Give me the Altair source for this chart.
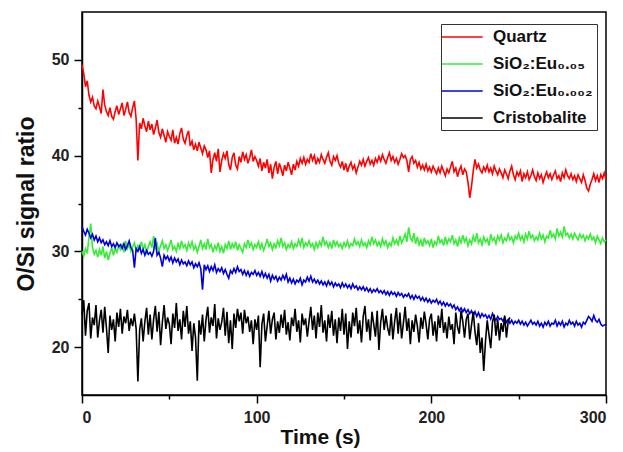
import altair as alt
import pandas as pd

quartz = [
    49.5, 48.6, 47.2, 47.8, 46.3, 45.6, 46.1, 45.2, 44.9, 45.7,
    45.1, 44.4, 46.9, 45.3, 44.6, 44.2, 45.0, 44.1, 43.8, 44.6,
    45.2, 44.3, 44.9, 45.5, 44.2, 44.8, 45.6, 44.5, 44.1, 45.0,
    45.7, 43.8, 39.5, 43.4, 42.8, 43.9, 43.1, 42.5, 43.6, 42.7,
    43.3, 42.2, 42.9, 43.7, 42.4, 41.9, 42.8, 42.1, 41.4, 42.5,
    42.0, 41.6, 42.7, 41.3, 41.9, 41.2, 42.3, 42.9, 41.7, 41.3,
    42.1, 42.6, 41.0, 41.5, 40.6, 41.2, 40.5, 41.4, 40.8, 40.2,
    41.0, 40.6, 39.8, 40.5, 38.2, 39.6, 40.3, 39.4, 40.7, 38.3,
    39.5, 40.2, 39.7, 40.5, 39.1, 38.5, 39.8, 40.3, 39.0, 38.6,
    39.9, 39.3, 40.4, 39.6, 40.1, 39.2, 39.8, 40.6, 39.4, 39.9,
    39.5, 38.9, 39.7, 38.4, 39.3, 38.7, 39.6, 38.2, 39.1, 37.6,
    38.8, 39.4, 38.1, 39.2, 38.6, 37.9, 39.0, 38.4, 39.3, 38.7,
    38.0, 39.1, 38.5, 39.4, 38.9, 39.7, 39.2, 39.8, 39.1, 39.6,
    39.3, 40.2, 39.5, 40.0, 39.1, 39.7, 39.3, 40.1, 39.6, 39.2,
    39.8, 40.3, 39.4, 39.0, 39.9, 39.5, 40.0, 39.2, 38.8, 39.4,
    38.5, 39.2, 38.3, 38.9, 39.3, 38.6, 39.0, 38.2, 38.8, 39.4,
    39.0, 39.6, 38.9, 39.4, 39.8, 39.1, 39.5, 39.0, 39.7, 39.3,
    39.9, 39.4, 40.1, 39.6, 39.2, 39.8, 40.3, 39.5, 39.9, 39.3,
    39.7, 39.1, 39.6, 40.2, 39.8, 40.0, 39.5, 38.3, 39.6, 39.9,
    39.2, 39.5, 38.8, 39.3, 38.6, 39.0, 38.5, 39.1, 38.4, 38.8,
    38.3, 38.9, 38.5, 38.1, 38.7, 38.2, 38.9, 38.4, 37.9, 38.6,
    38.2, 38.8, 39.4, 38.3, 38.7, 37.8, 38.5, 38.9, 38.0, 38.6,
    38.3, 37.2, 35.6, 36.8, 38.4, 39.6, 38.7, 39.1, 38.5, 38.2,
    38.8, 38.4, 39.0, 38.3, 38.7, 38.1, 38.9, 38.4, 38.0, 38.6,
    38.2, 37.7, 38.5, 38.1, 37.6, 38.4, 38.9, 38.0, 37.5, 38.3,
    37.9, 38.4, 37.3, 38.1, 37.7, 38.3, 37.5, 37.9, 38.5, 37.8,
    37.4, 38.2, 37.6, 38.0, 37.2, 37.8, 38.3, 37.7, 38.1, 37.5,
    38.0, 38.4, 37.6, 37.9, 37.3, 38.2, 37.7, 38.5, 37.9, 37.6,
    38.1, 37.5, 37.9, 37.3, 38.0, 37.6, 37.2, 38.0, 37.4, 36.6,
    36.3, 37.0, 37.5, 38.1, 37.4, 37.9, 37.2, 38.0, 37.6, 38.2,
    37.5]
eu005 = [
    30.0, 29.5, 30.3, 29.8, 31.5, 32.9, 30.4, 29.7, 30.1, 29.4,
    30.2, 29.6, 30.5, 29.3, 30.0, 29.1, 29.8, 30.4, 29.6, 30.3,
    29.9, 30.6, 30.2, 30.8, 29.9, 31.1, 30.3, 30.7, 30.0, 30.5,
    30.9, 30.1, 30.6, 30.3, 31.0, 30.2, 30.7, 29.9, 30.5, 31.0,
    30.4, 31.6, 30.2, 30.8, 30.0, 30.6, 31.1, 30.3, 30.7, 30.1,
    30.6, 31.2, 30.2, 30.5, 30.0, 30.8, 30.3, 31.1, 30.4, 30.7,
    30.1, 30.9, 30.4, 31.0, 30.2, 30.6, 29.9, 30.5, 31.2, 30.3,
    30.8, 30.2, 31.3, 30.4, 30.7, 29.9, 30.6, 30.2, 30.9, 30.0,
    30.5, 29.8, 30.7, 30.3, 31.1, 30.2, 30.8, 30.4, 31.0, 30.1,
    30.7, 30.3, 29.9, 30.8, 30.4, 31.2, 30.5, 30.9, 30.2, 30.7,
    30.4, 31.0, 30.3, 30.8, 30.1, 30.6, 31.3, 30.5, 30.9, 30.2,
    30.8, 30.4, 31.1, 30.6, 31.4, 30.5, 30.9, 30.2, 30.7, 30.4,
    31.0, 30.3, 30.8, 30.5, 31.2, 30.6, 31.4, 30.4, 30.9, 30.6,
    31.1, 30.5, 30.8, 30.2, 30.9, 30.4, 31.0, 30.6, 31.5, 30.7,
    31.0, 30.4, 30.9, 30.3, 31.2, 30.6, 31.0, 30.5, 30.8, 30.3,
    30.9, 30.5, 31.1, 30.4, 30.8, 30.6, 31.3, 30.7, 31.0, 30.5,
    31.2, 30.6, 30.9, 30.4, 31.1, 30.7, 31.5, 30.8, 31.2, 30.6,
    31.0, 30.5, 31.3, 30.7, 31.1, 30.4, 30.9, 30.6, 31.4, 30.8,
    31.2, 30.7, 31.6, 30.9, 31.3, 31.8, 31.0, 32.5, 31.4, 31.1,
    31.9, 30.8, 31.5, 30.7, 31.2, 30.5, 31.4, 30.8, 31.1, 30.6,
    31.3, 30.4, 31.0, 30.7, 31.6, 30.9, 31.2, 30.6, 31.5, 30.8,
    31.3, 31.0, 31.7, 30.8, 31.2, 30.5, 31.4, 30.9, 31.7, 31.0,
    31.4, 30.6, 31.2, 30.8, 31.6, 31.0, 31.9, 30.9, 31.3, 30.7,
    31.5, 31.0, 31.3, 30.6, 31.8, 31.1, 31.4, 30.8, 31.6, 31.2,
    31.7, 30.9, 31.4, 31.1, 31.8, 31.2, 31.5, 30.9, 31.6, 31.3,
    31.9, 31.2, 31.6, 31.0, 31.8, 31.3, 32.1, 31.4, 31.7, 31.1,
    31.5, 31.2, 31.9, 31.3, 31.7, 31.0, 31.6, 31.4, 32.2, 31.5,
    31.8, 31.3, 32.4, 31.6, 32.0, 31.5, 32.6, 31.7, 31.9, 31.4,
    31.8, 31.3, 31.9, 31.5, 31.2, 31.8, 31.4, 31.7, 31.1, 31.6,
    31.3, 31.8, 31.2, 31.5, 30.9, 31.6, 31.2, 30.8, 31.4, 31.0,
    31.2]
eu0002 = [
    32.6, 32.1, 31.7, 32.3, 31.9, 31.4, 31.8, 31.2, 31.6, 31.0,
    31.4, 30.9, 31.2, 30.7, 31.0, 30.6, 31.1, 30.5, 30.8, 30.4,
    30.9, 30.5, 30.7, 30.3, 30.8, 30.2, 30.6, 31.1, 30.4, 30.1,
    28.3, 30.3, 30.0, 30.5, 29.8, 30.2, 29.6, 30.1, 29.7, 29.9,
    29.5, 30.0, 31.4, 29.6, 29.9, 29.3, 28.4, 29.6, 29.2, 29.5,
    29.0, 29.4, 28.8, 29.3, 28.9, 29.2, 28.6, 29.1, 28.7, 28.9,
    28.5, 29.0, 28.6, 28.9, 28.3, 28.7, 28.4, 28.8, 28.2, 26.0,
    28.6, 28.1, 28.5, 27.9, 28.4, 28.0, 28.6, 27.8, 28.2, 27.9,
    28.3, 27.7, 28.1, 27.6, 27.2, 28.0, 27.7, 28.2, 27.8, 28.4,
    27.9, 28.1, 27.6, 28.0, 27.5, 27.9, 27.4, 27.8, 27.6, 28.0,
    27.5, 27.8, 27.4, 27.9, 27.3, 27.7, 27.2, 27.6, 26.9, 27.5,
    27.1, 27.4, 26.9, 27.3, 27.0, 27.5, 27.1, 27.6, 26.8, 27.2,
    26.7, 27.1, 26.6, 27.0, 26.8, 27.2, 26.5, 27.0, 26.8, 27.3,
    26.9, 27.4, 26.8, 27.1, 26.7, 27.0, 26.6, 26.9, 26.5, 26.8,
    26.4, 26.9, 26.5, 26.8, 26.3, 26.7, 26.4, 26.6, 26.2, 26.7,
    26.3, 26.6, 26.2, 26.5, 26.1, 26.6, 26.2, 26.4, 26.0, 26.3,
    26.0, 26.3, 25.9, 26.2, 25.8, 26.1, 25.7, 26.0, 25.8, 26.1,
    25.7, 25.9, 25.6, 25.9, 25.5, 25.8, 25.4, 25.8, 25.5, 25.7,
    25.3, 25.7, 25.4, 25.6, 25.2, 25.5, 25.3, 25.6, 25.1, 25.4,
    25.0, 25.4, 25.1, 25.3, 24.9, 25.2, 24.8, 25.1, 24.7, 25.0,
    24.6, 24.9, 24.7, 25.0, 24.5, 24.8, 24.4, 24.7, 24.3, 24.6,
    24.3, 24.5, 24.1, 24.4, 23.9, 24.2, 23.8, 24.1, 23.7, 24.0,
    23.6, 23.9, 23.5, 23.8, 23.3, 23.7, 23.2, 23.6, 23.1, 23.5,
    23.2, 23.4, 23.0, 23.3, 22.9, 23.5, 23.1, 22.8, 23.2, 22.9,
    23.0, 22.7, 23.1, 22.6, 22.9, 22.5, 22.8, 22.4, 22.7, 22.5,
    22.8, 22.4, 22.7, 22.3, 22.6, 22.2, 22.5, 22.8, 22.4, 22.6,
    22.3, 22.7, 22.2, 22.5, 22.1, 22.6, 22.3, 22.7, 22.2, 22.5,
    22.4, 22.8, 22.2, 22.6, 22.3, 22.7, 22.1, 22.5, 22.3, 22.8,
    22.4, 22.6, 22.2, 22.7, 22.3, 22.5, 22.1, 22.6, 22.4, 22.8,
    23.2, 23.0, 22.7, 23.3, 22.8, 22.6, 22.9, 22.4, 22.2, 22.3,
    22.4]
cristo = [
    23.4, 24.9, 21.2, 23.8, 24.6, 20.9, 23.1, 22.3, 24.4, 21.0,
    22.8, 23.9, 21.5, 24.2, 22.0, 19.4, 23.3, 21.8, 22.9, 20.6,
    23.6, 22.1, 24.0, 21.4, 23.2, 22.5, 23.9, 21.7, 23.0, 22.2,
    23.5, 21.9, 16.4, 21.8, 23.0, 20.6, 22.7, 24.1, 21.3, 23.4,
    20.8, 22.9, 24.3, 21.6, 23.7, 20.2, 22.6, 24.4, 21.9, 23.1,
    22.4, 20.3, 23.5, 22.0, 24.6, 21.7, 22.9, 20.8, 23.8, 22.1,
    24.3, 21.4, 22.7, 19.6, 22.5, 21.0, 16.5, 22.8, 21.3, 23.4,
    20.6, 22.9, 24.2, 21.5, 23.1, 22.2, 24.5, 20.9, 23.0, 21.8,
    22.6, 24.1, 21.2, 23.7, 20.4, 22.8, 19.8, 23.5, 22.0, 24.0,
    22.7, 23.6, 21.4, 23.9, 22.5, 23.2, 21.6, 22.8, 20.3, 22.9,
    21.8, 23.3, 17.9, 22.4, 23.5, 20.6, 22.2, 23.8, 21.4, 22.9,
    23.6, 20.8, 22.7, 21.5, 23.4, 22.0, 23.9, 21.3, 22.6, 20.7,
    23.1, 22.2, 24.0, 21.6, 22.8, 20.5, 23.5, 22.3, 23.0, 21.1,
    22.7, 24.2, 21.8, 23.3, 20.9, 23.6, 22.1, 24.4, 21.5, 22.8,
    20.6, 23.4, 22.0, 23.8, 21.2, 22.9, 20.4, 23.1, 21.7, 24.0,
    21.3, 23.5, 19.8, 22.7, 21.0, 23.6, 22.2, 24.1, 21.4, 22.8,
    20.5, 23.2, 24.3, 21.6, 22.9, 20.7, 23.7, 22.4, 21.1, 23.8,
    19.7, 22.6, 24.0, 21.8, 23.3, 22.0, 21.2, 23.5, 20.8, 22.7,
    24.1, 21.4, 23.6, 20.9, 22.5, 24.2, 21.7, 23.0, 20.3, 22.8,
    21.6, 23.4, 22.2, 20.5, 23.1, 21.9, 23.7, 22.4, 20.8, 22.9,
    23.5, 21.2, 22.7, 20.6, 23.3, 22.0, 24.0, 21.5, 22.6, 20.9,
    23.2, 21.8, 22.4, 20.3, 23.6, 22.1, 21.4, 23.8, 22.7, 21.0,
    22.9, 23.5, 20.8, 22.3, 23.7, 21.6, 20.2, 22.5, 19.4, 21.0,
    17.5, 20.6, 22.8, 21.3, 19.9, 22.6, 23.4, 21.2, 22.9, 20.7,
    22.5, 21.6, 23.3, 21.0, 22.7, 23.1]

names = ["Quartz", "SiO₂:Eu₀.₀₅", "SiO₂:Eu₀.₀₀₂", "Cristobalite"]
colors = ["#ff0000", "#33ee33", "#0000dd", "#000000"]
step = 1

rows = []
for k, (name, vals) in enumerate(zip(names, [quartz, eu005, eu0002, cristo])):
    for i, v in enumerate(vals):
        rows.append({"t": i * step, "v": v, "s": name, "o": k})
df = pd.DataFrame(rows)

font = "Liberation Sans"

chart = alt.Chart(df).mark_line(strokeWidth=1.6).encode(
    x=alt.X("t:Q", scale=alt.Scale(domain=[0, 300], nice=False),
            axis=alt.Axis(title="Time (s)", values=[0, 50, 100, 150, 200, 250, 300],
                          labelExpr="datum.value % 100 === 0 ? datum.label : ''",
                          tickSize={"condition": {"test": "datum.value % 100 === 0", "value": 8}, "value": 4},
                          labelPadding=6, titlePadding=1, titleX=238)),
    y=alt.Y("v:Q", scale=alt.Scale(domain=[15, 55], nice=False, zero=False),
            axis=alt.Axis(title="O/Si signal ratio", values=[20, 25, 30, 35, 40, 45, 50],
                          labelExpr="datum.value % 10 === 0 ? datum.label : ''",
                          tickSize={"condition": {"test": "datum.value % 10 === 0", "value": 8}, "value": 4},
                          labelPadding=5, titlePadding=13, titleFontSize=23)),
    color=alt.Color("s:N", scale=alt.Scale(domain=names, range=colors),
                    legend=alt.Legend(title=None, orient="none", legendX=359, legendY=12,
                                      symbolType="M-1.5,0L3.5,0", symbolSize=269,
                                      symbolStrokeWidth=1.5, labelOffset=30,
                                      labelFont=font, labelFontSize=17, labelFontWeight="bold",
                                      labelColor="#111", strokeColor="#333", padding=4,
                                      rowPadding=10)),
    order=alt.Order("o:Q"),
    detail="s:N",
).properties(
    width=524, height=383,
    autosize=alt.AutoSizeParams(type="none"),
    padding={"left": 74, "top": 4, "right": 9, "bottom": 57},
).configure_view(
    stroke="#000", strokeWidth=1.5
).configure_axis(
    domainColor="#000", domainWidth=1.5, tickColor="#000", tickWidth=1.5,
    labelFont=font, labelFontSize=16, labelFontWeight="bold", labelColor="#222",
    titleFont=font, titleFontSize=21, titleFontWeight="bold", titleColor="#111",
    grid=False,
)

chart.save("out.html", embed_options={"renderer": "svg", "actions": False})
